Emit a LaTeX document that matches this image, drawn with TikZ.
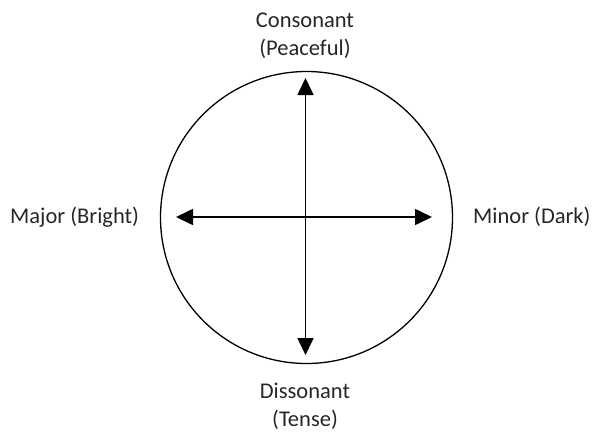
\documentclass[tikz,border=0pt]{standalone}
\usepackage{fontspec}
\setmainfont{Carlito}
\usetikzlibrary{arrows.meta}
\begin{document}
\begin{tikzpicture}[x=1pt,y=-1pt,
  lbl/.style={font=\fontsize{22.5}{28}\selectfont, text=black!85, inner sep=0pt, align=center},
  axis/.style={line width=1.6pt, {Triangle[length=17pt,width=16pt]}-{Triangle[length=17pt,width=16pt]}}]
\useasboundingbox (0,0) rectangle (593,431);
\node[circle, draw, line width=1.3pt, minimum size=292pt, inner sep=0pt] (c) at (306.5,217.5) {};
\coordinate (top) at (305.5,78);
\coordinate (bot) at (305.5,355);
\coordinate (lft) at (176,217);
\coordinate (rgt) at (432,217);
\draw[axis] (top) -- (bot);
\draw[axis] (lft) -- (rgt);
\node[lbl] (cons) at (305,36) {Consonant\\(Peaceful)};
\node[lbl] (diss) at (305,406) {Dissonant\\(Tense)};
\node[lbl, anchor=west] (maj) at (10,217) {Major (Bright)};
\node[lbl, anchor=west] (min) at (473,217) {Minor (Dark)};
\end{tikzpicture}
\end{document}
